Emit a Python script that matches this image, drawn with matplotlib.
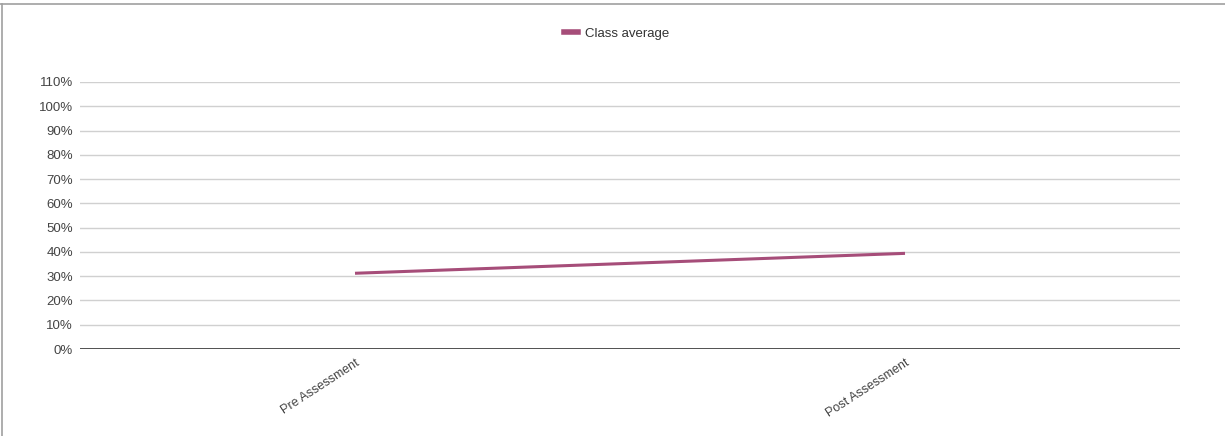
import matplotlib
matplotlib.use("Agg")
import matplotlib.pyplot as plt
from matplotlib.lines import Line2D

categories = ["Pre Assessment", "Post Assessment"]
class_average = [31.2, 39.4]
yticks = list(range(0, 111, 10))

plt.rcParams['font.family'] = ['Liberation Sans', 'DejaVu Sans']

W, H = 1225, 436
fig = plt.figure(figsize=(W/100, H/100), dpi=100)
ax = fig.add_axes([80/W, 1-349/H, 1100/W, (349-82)/H])

x = list(range(len(categories)))
ax.plot(x, class_average, color="#a64d79", linewidth=2.2, solid_capstyle="butt", zorder=3)
ax.set_xlim(-0.5, len(categories) - 0.5)
ax.set_ylim(0, 110)
ax.set_yticks(yticks)
ax.set_yticklabels([f"{v}%" for v in yticks], fontsize=9.5, color="#444444")
ax.set_xticks(x)
ax.set_xticklabels(categories, rotation=33, ha="right", va="top", rotation_mode="anchor",
                   fontsize=9, color="#444444")
ax.tick_params(axis="both", length=0)
ax.tick_params(axis="y", pad=5)
ax.tick_params(axis="x", pad=6)
for v in yticks[1:]:
    ax.axhline(v, color="#d0d0d0", linewidth=1, zorder=1)
ax.axhline(0, color="#333333", linewidth=1.2, zorder=2)
for s in ax.spines.values():
    s.set_visible(False)

handle = Line2D([], [], color="#a64d79", linewidth=4)
fig.legend([handle], ["Class average"], loc="center", bbox_to_anchor=(617/W, 1-34/H),
           frameon=False, fontsize=9.5, handlelength=1.0, handletextpad=0.6,
           labelcolor="#333333")

# outer frame (top and left)
fig.add_artist(Line2D([0, 1], [1-4/H, 1-4/H], transform=fig.transFigure, color="#a0a0a0", linewidth=1.2))
fig.add_artist(Line2D([2/W, 2/W], [0, 1-4/H], transform=fig.transFigure, color="#a0a0a0", linewidth=1.2))

fig.savefig("out.png", dpi=100)
